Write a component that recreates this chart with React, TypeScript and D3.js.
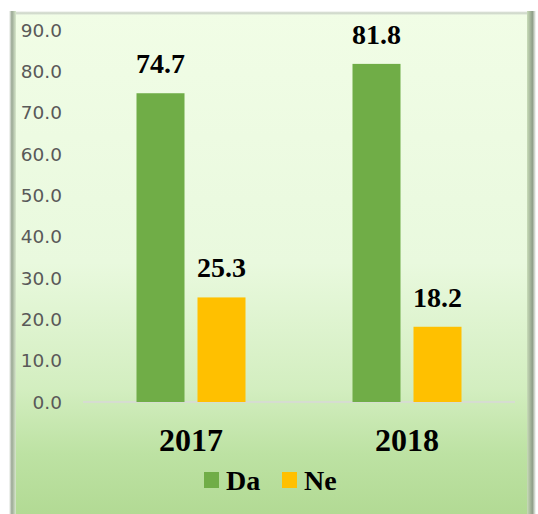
import React from "react";
import * as d3 from "d3";

const categories = ["2017", "2018"];
const seriesNames = ["Da", "Ne"];
const daValues = [74.7, 81.8];
const neValues = [25.3, 18.2];
const yTicks = [0, 10, 20, 30, 40, 50, 60, 70, 80, 90];
const colors = ["#70ad47", "#ffc000"];

const SERIF = "'Liberation Serif', 'Times New Roman', 'DejaVu Serif', serif";

export default function App() {
  const W = 538, H = 514;
  const x0 = d3.scaleBand().domain(categories).range([83, 515]).paddingInner(0).paddingOuter(0);
  const x1 = d3.scaleBand().domain(seriesNames).range([0, 109]).paddingInner(0.213);
  const y = d3.scaleLinear().domain([0, 90]).range([402, 30]);
  const series = [daValues, neValues];
  const groupOffset = (x0.bandwidth() - 109) / 2;
  return (
    <svg width={W} height={H} style={{ position: "absolute", left: 0, top: 0 }}>
      <defs>
        <linearGradient id="bg" x1="0" y1="0" x2="0" y2="1">
          <stop offset="0" stopColor="#f1fde6" />
          <stop offset="0.5" stopColor="#e9f9de" />
          <stop offset="0.75" stopColor="#d3eec0" />
          <stop offset="0.88" stopColor="#bde2a3" />
          <stop offset="1" stopColor="#b2da94" />
        </linearGradient>
        <linearGradient id="lb" x1="0" y1="0" x2="1" y2="0">
          <stop offset="0" stopColor="#ffffff" />
          <stop offset="0.4" stopColor="#9aa894" />
          <stop offset="1" stopColor="#d8e8cc" />
        </linearGradient>
        <linearGradient id="rb" x1="0" y1="0" x2="1" y2="0">
          <stop offset="0" stopColor="#c8dcb8" />
          <stop offset="0.6" stopColor="#8f9e88" />
          <stop offset="1" stopColor="#ffffff" />
        </linearGradient>
        <linearGradient id="tb" x1="0" y1="0" x2="0" y2="1">
          <stop offset="0" stopColor="#ffffff" />
          <stop offset="0.5" stopColor="#c9d2c4" />
          <stop offset="1" stopColor="#eef8e6" />
        </linearGradient>
      </defs>
      <rect x={0} y={0} width={W} height={H} fill="#ffffff" />
      <rect x={9} y={11} width={527} height={503} fill="url(#bg)" />
      <rect x={9} y={11} width={527} height={4} fill="url(#tb)" />
      <rect x={9} y={11} width={7} height={503} fill="url(#lb)" />
      <rect x={527} y={11} width={9} height={503} fill="url(#rb)" />
      {yTicks.map((t) => (
        <text key={t} x={62} y={y(t)} dy="0.36em" textAnchor="end"
          fontFamily="'DejaVu Sans', Verdana, sans-serif" fontSize={18.5} fill="#595959">{t.toFixed(1)}</text>
      ))}
      <line x1={83} x2={515} y1={y(0)} y2={y(0)} stroke="#d9d9d9" strokeWidth={1.5} />
      {categories.map((c, ci) => (
        <g key={c} transform={`translate(${(x0(c) as number) + groupOffset},0)`}>
          {seriesNames.map((s, si) => {
            const v = series[si][ci];
            const bx = x1(s) as number;
            return (
              <g key={s}>
                <rect x={bx} y={y(v)} width={x1.bandwidth()} height={y(0) - y(v)} fill={colors[si]} />
                <text x={bx + x1.bandwidth() / 2} y={y(v) - 20} textAnchor="middle"
                  fontFamily={SERIF} fontWeight="bold" fontSize={28} fill="#000">{v.toFixed(1)}</text>
              </g>
            );
          })}
        </g>
      ))}
      {categories.map((c) => (
        <text key={c} x={(x0(c) as number) + x0.bandwidth() / 2} y={451} textAnchor="middle"
          fontFamily={SERIF} fontWeight="bold" fontSize={32} fill="#000">{c}</text>
      ))}
      {seriesNames.map((s, i) => {
        const lx = [204, 282][i];
        return (
          <g key={s}>
            <rect x={lx} y={472} width={15} height={16} fill={colors[i]} />
            <text x={lx + 22} y={490} fontFamily={SERIF} fontWeight="bold" fontSize={28} fill="#000">{s}</text>
          </g>
        );
      })}
    </svg>
  );
}
